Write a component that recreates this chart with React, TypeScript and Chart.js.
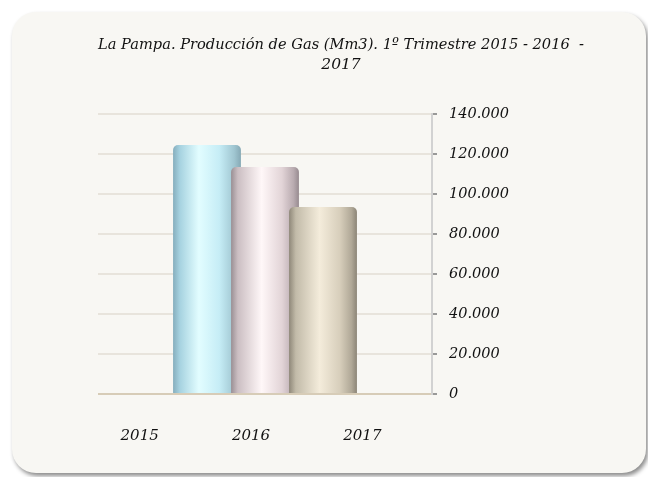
import React, { useEffect, useRef } from "react";
import { Chart, registerables } from "chart.js";

Chart.register(...registerables);

const titleLines = ["La Pampa. Producción de Gas (Mm3). 1º Trimestre 2015 - 2016  -", "2017"];
const periodLabels = ["1º Trimestre"];
const years = ["2015", "2016", "2017"];
const gasValues = [124500, 113500, 93500];
const yTicksMax = 140000;
const yTicksStep = 20000;

const gradientStops: [number, string][][] = [
  [[0, "#86aebd"], [0.1, "#a6d2e0"], [0.38, "#e2fdff"], [0.68, "#c6edf6"], [0.9, "#a0c6d1"], [1, "#86a9b5"]],
  [[0, "#9a8f94"], [0.1, "#cbbec2"], [0.45, "#fff7f8"], [0.75, "#e2d4d7"], [0.92, "#b9abb0"], [1, "#978b90"]],
  [[0, "#8f8879"], [0.1, "#c2bba9"], [0.45, "#f4ecdb"], [0.75, "#d7cebb"], [0.92, "#b0a897"], [1, "#8c8577"]],
];
const flatColors = ["#bfe6f0", "#eadfe1", "#ddd4c2"];

const FONT = "'DejaVu Serif', serif";

function fmt(v: number): string {
  const s = Math.round(v).toString();
  return s.replace(/\B(?=(\d{3})+(?!\d))/g, ".");
}

export default function App() {
  const ref = useRef<HTMLCanvasElement | null>(null);
  useEffect(() => {
    if (!ref.current) return;
    const orderPlugin = {
      id: "orderDraw",
      beforeDatasetsDraw(chart: any) {
        const metas = chart.getSortedVisibleDatasetMetas();
        metas.forEach((m: any) => m.controller.draw());
        return false;
      },
    };
    const chart = new Chart(ref.current, {
      type: "bar",
      data: {
        labels: periodLabels,
        datasets: years.map((y, i) => ({
          label: y,
          data: [gasValues[i]],
          backgroundColor: (c: any) => {
            const el = c.element;
            if (!el || typeof el.x !== "number" || isNaN(el.x) || !el.width) return flatColors[i];
            const g = c.chart.ctx.createLinearGradient(el.x - el.width / 2, 0, el.x + el.width / 2, 0);
            gradientStops[i].forEach(([o, col]) => g.addColorStop(o, col));
            return g;
          },
          borderWidth: 0,
          borderRadius: { topLeft: 5, topRight: 5, bottomLeft: 0, bottomRight: 0 },
          borderSkipped: false,
          categoryPercentage: 0.521,
          barPercentage: 1.17,
        })),
      },
      options: {
        animation: false,
        responsive: false,
        layout: { padding: { left: 86, right: 62, top: 0, bottom: -5 } },
        plugins: {
          legend: { display: false },
          tooltip: { enabled: false },
          title: {
            display: true,
            text: titleLines,
            color: "#111",
            font: { family: FONT, size: 15.5, style: "italic", weight: "normal", lineHeight: 20 / 15.5 },
            padding: { top: 23, bottom: 39 },
          },
        },
        scales: {
          x: { type: "category", display: false },
          x2: {
            type: "category",
            labels: years,
            position: "bottom",
            offset: true,
            grid: { display: false, drawTicks: false },
            border: { display: false },
            ticks: {
              color: "#111",
              font: { family: FONT, size: 15, style: "italic" },
              padding: 33,
              labelOffset: -14,
              maxRotation: 0,
            },
          },
          y: {
            position: "right",
            min: 0,
            max: yTicksMax,
            afterFit: (s: any) => {
              s.width = 152;
            },
            ticks: {
              stepSize: yTicksStep,
              callback: (v: any) => fmt(Number(v)),
              color: "#111",
              font: { family: FONT, size: 14.5, style: "italic" },
              padding: 12,
            },
            grid: {
              color: (c: any) => (c.tick && c.tick.value === 0 ? "#d7ccb7" : "#e8e4dc"),
              lineWidth: 2,
              tickLength: 5,
              tickColor: "#7a7a7a",
              tickWidth: 1.5,
            },
            border: { color: "#d2d2d2", width: 2 },
          },
        },
      },
      plugins: [orderPlugin],
    } as any);
    chart.update();
    return () => chart.destroy();
  }, []);
  return (
    <div style={{ padding: 4 }}>
      <div
        style={{
          width: 634,
          height: 461,
          background: "#f8f7f3",
          borderRadius: 24,
          boxShadow: "2px 3px 4px rgba(0,0,0,0.45)",
          overflow: "hidden",
        }}
      >
        <canvas ref={ref} width={634} height={461} style={{ display: "block" }} />
      </div>
    </div>
  );
}
